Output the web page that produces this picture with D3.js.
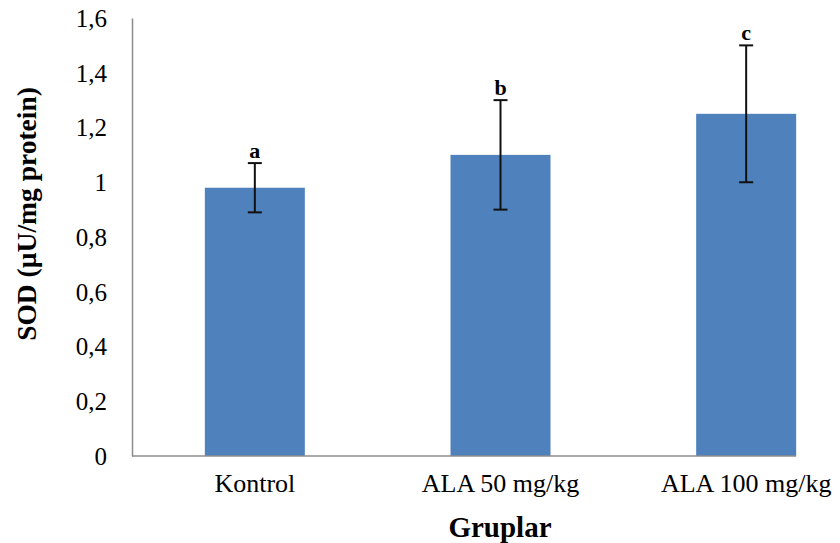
<!DOCTYPE html>
<html><head><meta charset="utf-8">
<script src="https://cdn.jsdelivr.net/npm/d3@7"></script>
<style>body{margin:0;background:#fff}svg{display:block}</style>
</head><body>
<svg id="c" width="840" height="543"></svg>
<script>
const categories = ["Kontrol", "ALA 50 mg/kg", "ALA 100 mg/kg"];
const values = [0.98, 1.10, 1.25];
const errors = [0.09, 0.20, 0.25];
const letters = ["a", "b", "c"];
const yTicks = [0, 0.2, 0.4, 0.6, 0.8, 1, 1.2, 1.4, 1.6];
const yTitle = "SOD (µU/mg protein)";
const xTitle = "Gruplar";

const svg = d3.select("#c");
const serif = "'Liberation Serif','Times New Roman',serif";
const x = d3.scaleBand().domain(categories).range([132, 869]).paddingInner(0.593).paddingOuter(0.2965);
const y = d3.scaleLinear().domain([0, 1.6]).range([456, 18]);
const axisColor = "#8c8c8c";

// y axis
const yAxis = svg.append("g").attr("transform", `translate(${x.range()[0]},0)`)
  .call(d3.axisLeft(y).tickValues(yTicks).tickSize(0).tickPadding(25)
    .tickFormat(d => d3.format("")(+d.toFixed(1)).replace(".", ",")));
yAxis.select(".domain").attr("stroke", axisColor).attr("stroke-width", 1.5);
yAxis.selectAll("text").attr("font-family", serif).attr("font-size", 25).attr("fill", "#000")
  .attr("dy", "0.33em");

// bars
svg.append("g").selectAll("rect").data(categories).join("rect")
  .attr("x", d => x(d)).attr("width", x.bandwidth())
  .attr("y", (d, i) => y(values[i])).attr("height", (d, i) => y(0) - y(values[i]))
  .attr("fill", "#4f81bd");

// x axis line (ends at last bar's right edge)
const last = categories[categories.length - 1];
svg.append("line").attr("x1", x.range()[0]).attr("x2", x(last) + x.bandwidth())
  .attr("y1", y(0)).attr("y2", y(0)).attr("stroke", axisColor).attr("stroke-width", 1.5);

// category labels
svg.append("g").selectAll("text").data(categories).join("text")
  .attr("x", d => x(d) + x.bandwidth() / 2).attr("y", y(0) + 36)
  .attr("text-anchor", "middle").attr("font-family", serif).attr("font-size", 26)
  .attr("fill", "#000").text(d => d);

// error bars
const eg = svg.append("g").attr("stroke", "#111").attr("stroke-width", 2);
categories.forEach((c, i) => {
  const cx = x(c) + x.bandwidth() / 2;
  const t = y(values[i] + errors[i]), b = y(values[i] - errors[i]);
  eg.append("line").attr("x1", cx).attr("x2", cx).attr("y1", t).attr("y2", b);
  eg.append("line").attr("x1", cx - 7).attr("x2", cx + 7).attr("y1", t).attr("y2", t);
  eg.append("line").attr("x1", cx - 7).attr("x2", cx + 7).attr("y1", b).attr("y2", b);
});

// significance letters
svg.append("g").selectAll("text").data(categories).join("text")
  .attr("x", d => x(d) + x.bandwidth() / 2)
  .attr("y", (d, i) => y(values[i] + errors[i]) - 5)
  .attr("text-anchor", "middle").attr("font-family", serif).attr("font-weight", "bold")
  .attr("font-size", 22).attr("fill", "#000").text((d, i) => letters[i]);

// titles
svg.append("text").attr("x", 500).attr("y", 537).attr("text-anchor", "middle")
  .attr("font-family", serif).attr("font-weight", "bold").attr("font-size", 29)
  .attr("fill", "#000").text(xTitle);
svg.append("text").attr("transform", "translate(36,214) rotate(-90)").attr("text-anchor", "middle")
  .attr("font-family", serif).attr("font-weight", "bold").attr("font-size", 27.5)
  .attr("fill", "#000").text(yTitle);
</script>
</body></html>
